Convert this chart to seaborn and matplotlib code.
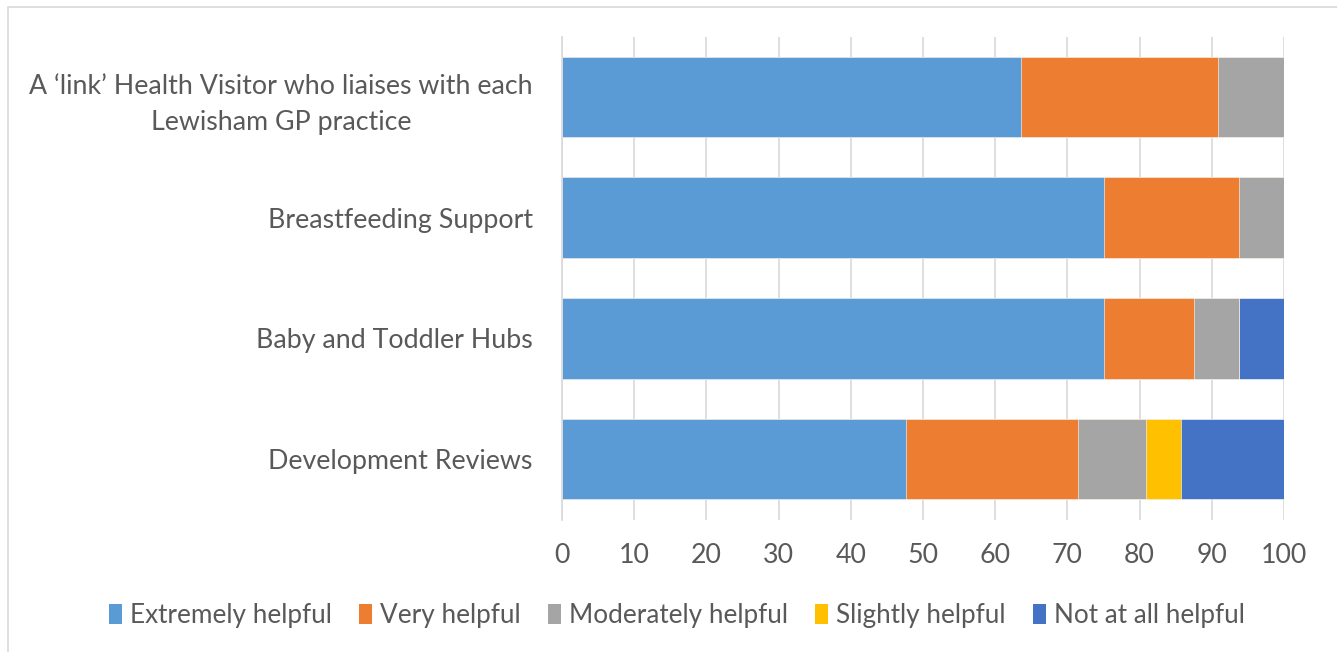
import matplotlib

matplotlib.use("Agg")
import matplotlib.pyplot as plt  # noqa: E402
import numpy as np  # noqa: E402
import pandas as pd  # noqa: E402
import seaborn as sns  # noqa: E402
from matplotlib.patches import Patch, Rectangle  # noqa: E402

services = [
    "A \u2018link\u2019 Health Visitor who liaises with each\nLewisham GP practice",
    "Breastfeeding Support",
    "Baby and Toddler Hubs",
    "Development Reviews",
]
ratings = ["Extremely helpful", "Very helpful", "Moderately helpful",
           "Slightly helpful", "Not at all helpful"]
extremely = [63.6, 75.0, 75.0, 47.6]
very = [27.3, 18.75, 12.5, 23.8]
moderately = [9.1, 6.25, 6.25, 9.5]
slightly = [0.0, 0.0, 0.0, 4.8]
not_at_all = [0.0, 0.0, 6.25, 14.3]
colors = ["#5B9BD5", "#ED7D31", "#A5A5A5", "#FFC000", "#4472C4"]
x_ticks = list(range(0, 101, 10))

sns.set_theme(style="white")
plt.rcParams["font.family"] = ["Lato", "DejaVu Sans"]
TEXT = "#595959"
FS = 19.3

df = pd.DataFrame({"service": services})
series = [extremely, very, moderately, slightly, not_at_all]
cum = np.cumsum(np.array(series), axis=0)

fig = plt.figure(figsize=(13.37, 6.52), dpi=100)
ax = fig.add_axes([562 / 1337, 1 - 519.5 / 652, 722 / 1337, 483 / 652])

# draw cumulative totals from the back so each series shows as a segment
for i in range(len(series) - 1, -1, -1):
    df["value"] = cum[i]
    sns.barplot(data=df, x="value", y="service", color=colors[i], orient="h",
                width=0.667, saturation=1, edgecolor="white", linewidth=0.4, ax=ax)

ax.set_xlim(0, 100)
ax.set_ylim(3.5, -0.5)
ax.set_xticks(x_ticks)
ax.set_xlabel("")
ax.set_ylabel("")
ax.grid(axis="x", color="#D9D9D9", linewidth=1.2)
ax.set_axisbelow(True)
for side in ["top", "right", "bottom"]:
    ax.spines[side].set_visible(False)
ax.spines["left"].set_color("#D9D9D9")
ax.spines["left"].set_linewidth(1.2)
ax.tick_params(axis="x", labelsize=FS, colors=TEXT, length=0, pad=17)
ax.tick_params(axis="y", labelsize=FS, colors=TEXT, length=0, pad=21)
for lbl in ax.get_yticklabels():
    lbl.set_multialignment("center")
    lbl.set_linespacing(1.55)

handles = [Patch(facecolor=c, edgecolor="none", label=r) for c, r in zip(colors, ratings)]
fig.legend(handles=handles, loc="center", bbox_to_anchor=(677 / 1337, 1 - 616 / 652),
           ncol=5, frameon=False, fontsize=18.8, labelcolor=TEXT, handlelength=0.5,
           handleheight=0.8, handletextpad=0.3, columnspacing=1.05)

fig.patches.append(Rectangle((8 / 1337, -0.01), 1.2, 1 - 7 / 652 + 0.01,
                             transform=fig.transFigure, fill=False,
                             edgecolor="#D9D9D9", linewidth=1.2))

fig.savefig("out.png", dpi=100)
plt.close(fig)
